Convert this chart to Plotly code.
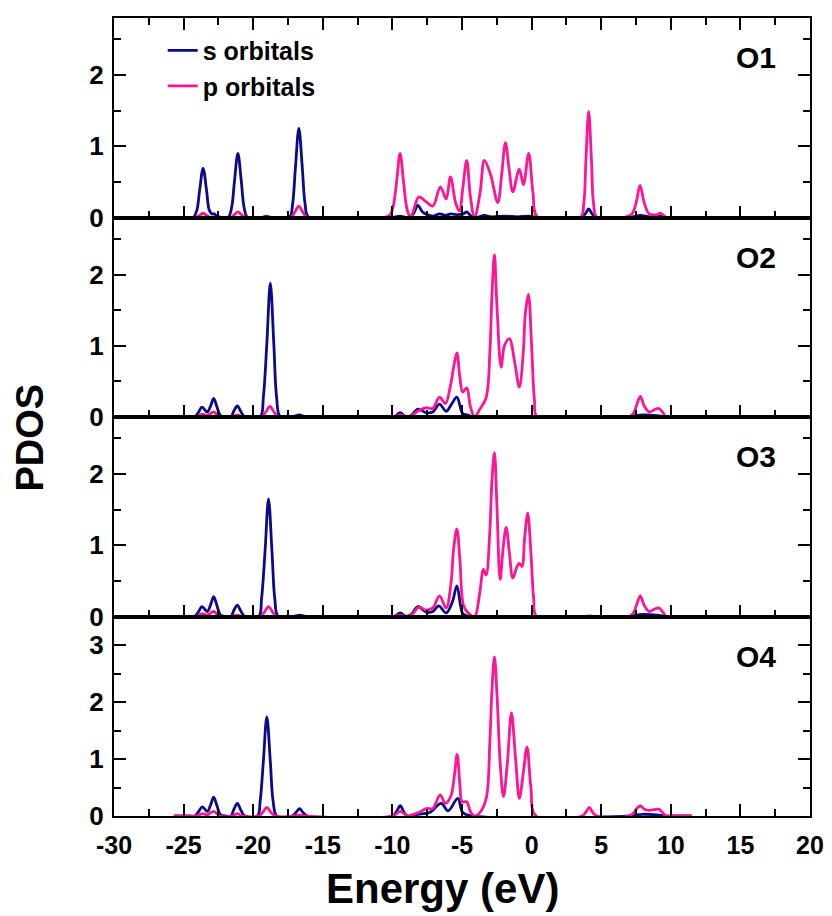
import plotly.graph_objects as go

# ---------------- data ----------------
panel_names = ["O1", "O2", "O3", "O4"]
x_ticks = [-30, -25, -20, -15, -10, -5, 0, 5, 10, 15, 20]

o1_s_x = [-25.7, -24.6, -24.3, -24.05, -23.85, -23.6, -23.35, -23.15, -22.95, -22.8, -22.6, -22.3,
          -21.8, -21.55, -21.35, -21.1, -20.85, -20.65, -20.4,
          -19.4, -19.06, -18.7,
          -17.4, -17.17, -16.97, -16.72, -16.47, -16.27, -16.0,
          -10.0, -9.45, -8.9, -8.5, -8.17, -7.85, -7.5, -7.1, -6.6, -6.2, -5.8, -5.3, -4.9, -4.66,
          -4.35, -4.0, -3.4, -2.9, -1.9, -1.0, -0.2, 0.4,
          3.5, 3.85, 4.1, 4.35, 4.7,
          7.0, 7.8, 8.5, 9.2, 9.8, 10.1, 11.5]
o1_s_y = [0, 0, 0, 0.10, 0.38, 0.69, 0.38, 0.10, 0.05, 0.05, 0.02, 0,
          0, 0.14, 0.50, 0.90, 0.50, 0.14, 0,
          0, 0.02, 0,
          0, 0.19, 0.69, 1.25, 0.69, 0.19, 0,
          0, 0.02, 0, 0.05, 0.17, 0.08, 0.04, 0.02, 0.05, 0.03, 0.05, 0.04, 0.05, 0.08,
          0.02, 0.0, 0.03, 0.01, 0.02, 0.01, 0.02, 0,
          0, 0.05, 0.12, 0.05, 0,
          0, 0.03, 0.01, 0.02, 0, 0, 0]

o1_p_x = [-25.7, -24.2, -23.85, -23.6, -23.35, -23.0, -21.6, -21.35, -21.1, -20.85, -20.5,
          -19.3, -19.0, -18.6, -17.3, -17.0, -16.72, -16.45, -16.1,
          -10.6, -10.2, -9.95, -9.7, -9.45, -9.2, -8.95, -8.7, -8.45, -8.1, -7.57, -7.1,
          -6.55, -6.14, -5.83, -5.45, -5.18, -4.95, -4.66, -4.4, -4.1, -3.7, -3.39, -2.96,
          -2.43, -2.15, -1.88, -1.6, -1.35, -0.88, -0.59, -0.21, 0.1, 0.44,
          3.5, 3.75, 3.9, 4.1, 4.3, 4.45, 4.7,
          6.6, 7.2, 7.5, 7.79, 8.1, 8.45, 9.0, 9.25, 9.65, 9.95, 11.5]
o1_p_y = [0, 0, 0.03, 0.06, 0.03, 0, 0, 0.04, 0.08, 0.04, 0,
          0, 0.01, 0, 0, 0.08, 0.16, 0.08, 0,
          0, 0.03, 0.15, 0.50, 0.90, 0.50, 0.12, 0.0, 0.12, 0.29, 0.22, 0.16,
          0.43, 0.26, 0.57, 0.20, 0.09, 0.40, 0.80, 0.30, 0.0, 0.35, 0.80, 0.61,
          0.21, 0.60, 1.05, 0.65, 0.36, 0.68, 0.46, 0.90, 0.35, 0,
          0, 0.20, 0.80, 1.49, 0.80, 0.20, 0,
          0, 0.05, 0.20, 0.45, 0.20, 0.05, 0.04, 0.06, 0, 0, 0]

o2_s_x = [-25.7, -24.6, -24.2, -23.95, -23.68, -23.3, -23.05, -22.84, -22.6, -22.35, -22.0,
          -21.6, -21.4, -21.14, -20.9, -20.6,
          -19.5, -19.27, -19.02, -18.77, -18.52, -18.32, -18.05,
          -17.2, -16.67, -16.2,
          -9.9, -9.44, -9.0, -8.6, -8.17, -7.57, -7.1, -6.62, -6.14, -5.75, -5.37, -4.95,
          -4.6, -4.2, 0.5, 7.0, 7.5, 8.0, 9.0, 9.7, 10.0, 11.5]
o2_s_y = [0, 0, 0, 0.06, 0.14, 0.07, 0.16, 0.26, 0.14, 0.02, 0,
          0, 0.08, 0.155, 0.08, 0,
          0, 0.28, 1.03, 1.88, 1.03, 0.28, 0,
          0, 0.03, 0,
          0, 0.06, 0, 0.03, 0.11, 0.06, 0.07, 0.18, 0.08, 0.18, 0.28, 0.05,
          0.03, 0, 0, 0, 0.02, 0.03, 0.02, 0, 0, 0]

o2_p_x = [-25.7, -24.1, -23.68, -23.3, -22.84, -22.4, -21.5, -21.14, -20.8,
          -19.4, -19.1, -18.8, -18.5, -18.2, -17.0, -16.67, -16.3,
          -10.0, -9.44, -8.9, -8.54, -8.1, -7.57, -7.1, -6.62, -6.19, -5.83, -5.6, -5.37,
          -5.15, -4.95, -4.66, -4.4, -4.1, -3.75, -3.27, -3.0, -2.85, -2.67, -2.5, -2.19,
          -1.95, -1.6, -1.2, -0.88, -0.6, -0.45, -0.23, 0.0, 0.2, 0.4,
          3.8, 4.15, 4.5, 7.0, 7.35, 7.55, 7.81, 8.1, 8.46, 8.8, 9.13, 9.4, 9.65, 9.95, 11.5]
o2_p_y = [0, 0, 0.04, 0.02, 0.07, 0, 0, 0.03, 0,
          0, 0.07, 0.15, 0.07, 0, 0, 0.01, 0,
          0, 0.03, 0, 0.03, 0.09, 0.13, 0.12, 0.28, 0.19, 0.44, 0.70, 0.90,
          0.55, 0.35, 0.41, 0.15, 0, 0.10, 0.27, 0.90, 1.70, 2.28, 1.60, 0.70,
          1.00, 1.10, 0.75, 0.42, 0.90, 1.45, 1.72, 1.00, 0.25, 0,
          0, 0.01, 0, 0, 0.06, 0.17, 0.29, 0.15, 0.07, 0.10, 0.12, 0.07, 0, 0, 0]

o3_s_x = [-25.7, -24.6, -24.2, -23.95, -23.68, -23.3, -23.05, -22.84, -22.6, -22.35, -22.0,
          -21.6, -21.4, -21.14, -20.9, -20.6,
          -19.6, -19.4, -19.15, -18.9, -18.65, -18.45, -18.2,
          -17.2, -16.67, -16.2,
          -9.9, -9.44, -9.0, -8.6, -8.17, -7.57, -7.1, -6.67, -6.14, -5.7, -5.37, -5.1,
          -4.95, -4.5, 7.0, 7.5, 8.0, 9.0, 9.7, 10.0, 11.5]
o3_s_y = [0, 0, 0, 0.06, 0.14, 0.07, 0.17, 0.28, 0.15, 0.02, 0,
          0, 0.08, 0.16, 0.08, 0,
          0, 0.25, 0.91, 1.65, 0.91, 0.25, 0,
          0, 0.02, 0,
          0, 0.05, 0, 0.04, 0.14, 0.06, 0.07, 0.15, 0.05, 0.20, 0.43, 0.15,
          0.04, 0, 0, 0.02, 0.03, 0.02, 0, 0, 0]

o3_p_x = [-25.7, -24.1, -23.68, -23.3, -22.84, -22.4, -21.5, -21.14, -20.8,
          -19.5, -19.2, -18.9, -18.6, -18.3,
          -10.0, -9.44, -8.9, -8.54, -8.1, -7.57, -7.1, -6.62, -6.14, -5.8, -5.6, -5.37,
          -5.15, -4.9, -4.6, -4.1, -3.75, -3.46, -3.27, -3.0, -2.85, -2.67, -2.5, -2.26,
          -2.05, -1.83, -1.6, -1.35, -1.05, -0.88, -0.69, -0.5, -0.28, -0.05, 0.15, 0.37,
          3.8, 4.15, 4.5, 7.0, 7.35, 7.55, 7.81, 8.1, 8.46, 8.8, 9.13, 9.4, 9.65, 9.95, 11.5]
o3_p_y = [0, 0, 0.04, 0.02, 0.07, 0, 0, 0.02, 0,
          0, 0.06, 0.14, 0.06, 0,
          0, 0.02, 0, 0.04, 0.13, 0.09, 0.12, 0.29, 0.12, 0.45, 0.95, 1.23,
          0.80, 0.16, 0.06, 0, 0.30, 0.66, 0.58, 1.20, 1.90, 2.30, 1.60, 0.52,
          0.95, 1.25, 0.90, 0.54, 0.70, 0.75, 0.70, 1.10, 1.45, 0.90, 0.25, 0,
          0, 0.01, 0, 0, 0.06, 0.17, 0.29, 0.15, 0.07, 0.10, 0.12, 0.07, 0, 0, 0]

o4_s_x = [-25.7, -24.6, -24.2, -23.95, -23.65, -23.3, -23.05, -22.84, -22.6, -22.35, -22.0,
          -21.6, -21.4, -21.14, -20.9, -20.6,
          -19.7, -19.5, -19.27, -19.02, -18.77, -18.57, -18.3,
          -17.2, -16.9, -16.67, -16.45, -16.1,
          -10.0, -9.7, -9.44, -9.15, -8.9, -8.17, -7.33, -6.5, -6.0, -5.3, -4.95,
          -4.3, 7.0, 7.5, 8.0, 9.0, 9.7, 10.0, 11.5]
o4_s_y = [0, 0, 0, 0.07, 0.16, 0.08, 0.20, 0.33, 0.18, 0.02, 0,
          0, 0.11, 0.22, 0.11, 0,
          0, 0.26, 0.96, 1.74, 0.96, 0.26, 0,
          0, 0.07, 0.13, 0.07, 0,
          0, 0.08, 0.18, 0.06, 0, 0.03, 0.06, 0.22, 0.09, 0.31, 0.06,
          0, 0, 0.02, 0.03, 0.02, 0, 0, 0]

o4_p_x = [-25.7, -24.1, -23.65, -23.3, -22.84, -22.4, -21.5, -21.14, -20.8,
          -19.6, -19.3, -19.02, -18.75, -18.4, -17.0, -16.67, -16.3,
          -10.0, -9.44, -8.9, -8.5, -8.1, -7.57, -7.1, -6.57, -6.19, -5.8, -5.55, -5.35,
          -5.15, -4.99, -4.66, -4.4, -4.1, -3.75, -3.27, -3.0, -2.85, -2.67, -2.48, -2.25,
          -2.02, -1.75, -1.45, -1.15, -0.88, -0.6, -0.33, -0.05, 0.32,
          3.6, 3.9, 4.15, 4.4, 4.7, 7.0, 7.35, 7.55, 7.81, 8.1, 8.46, 8.8, 9.13, 9.4, 9.65, 9.95, 11.5]
o4_p_y = [0, 0, 0.04, 0.02, 0.08, 0, 0, 0.04, 0,
          0, 0.07, 0.15, 0.07, 0, 0, 0.02, 0,
          0, 0.08, 0, 0.03, 0.06, 0.13, 0.13, 0.37, 0.22, 0.35, 0.70, 1.08,
          0.55, 0.25, 0.25, 0.08, 0, 0.05, 0.30, 1.30, 2.20, 2.79, 2.10, 0.90,
          0.34, 0.90, 1.81, 1.00, 0.31, 0.75, 1.21, 0.50, 0,
          0, 0.07, 0.15, 0.06, 0, 0, 0.06, 0.13, 0.18, 0.12, 0.10, 0.11, 0.12, 0.06, 0, 0, 0]

s_series = [(o1_s_x, o1_s_y), (o2_s_x, o2_s_y), (o3_s_x, o3_s_y), (o4_s_x, o4_s_y)]
p_series = [(o1_p_x, o1_p_y), (o2_p_x, o2_p_y), (o3_p_x, o3_p_y), (o4_p_x, o4_p_y)]
y_max = [2.8, 2.8, 2.8, 3.5]

# ---------------- styling ----------------
S_COLOR = "#0b0b8a"
P_COLOR = "#ff1493"
FONT = "Liberation Sans, Arial, sans-serif"
# the page body adds an 8px offset, so the figure is a little smaller than the window
W, H = 824, 908
ML, MR, MT, MB = 106, 22, 8, 100

fig = go.Figure()
n = len(panel_names)
for i in range(n):
    ax = "" if i == 0 else str(i + 1)
    sx, sy = s_series[i]
    px_, py_ = p_series[i]
    fig.add_trace(go.Scatter(x=sx, y=sy, mode="lines", name="s orbitals",
                             line=dict(color=S_COLOR, width=2.8, shape="spline", smoothing=1.0),
                             xaxis="x" + ax, yaxis="y" + ax, showlegend=(i == 0),
                             legendgroup="s", hoverinfo="skip"))
    fig.add_trace(go.Scatter(x=px_, y=py_, mode="lines", name="p orbitals",
                             line=dict(color=P_COLOR, width=2.8, shape="spline", smoothing=1.0),
                             xaxis="x" + ax, yaxis="y" + ax, showlegend=(i == 0),
                             legendgroup="p", hoverinfo="skip"))

layout = dict(
    width=W, height=H,
    margin=dict(l=ML, r=MR, t=MT, b=MB),
    plot_bgcolor="white", paper_bgcolor="white",
    font=dict(family=FONT, color="black"),
    legend=dict(x=0.07, y=0.988, xanchor="left", yanchor="top",
                font=dict(size=25, family=FONT, weight="bold", color="black"),
                bgcolor="rgba(0,0,0,0)", tracegroupgap=0, itemwidth=30),
)

for i in range(n):
    ax = "" if i == 0 else str(i + 1)
    top = 1 - i / n
    bottom = 1 - (i + 1) / n
    layout["yaxis" + ax] = dict(
        domain=[bottom, top], range=[0, y_max[i]], anchor="x" + ax,
        tickmode="linear", tick0=0, dtick=1,
        ticks="inside", ticklen=12, tickwidth=2, tickcolor="black",
        minor=dict(ticks="inside", ticklen=7, tickwidth=2, dtick=0.5, tickcolor="black"),
        showline=True, linewidth=2, linecolor="black", mirror="ticks",
        showgrid=False, zeroline=False,
        tickfont=dict(size=26, family=FONT, weight="bold", color="black"),
        ticklabelstandoff=3,
    )
    layout["xaxis" + ax] = dict(
        domain=[0, 1], range=[-30, 20], anchor="y" + ax,
        tickmode="array", tickvals=x_ticks, ticktext=[str(v) for v in x_ticks],
        ticks="inside", ticklen=12, tickwidth=2, tickcolor="black",
        minor=dict(ticks="inside", ticklen=7, tickwidth=2, dtick=2.5, tick0=0, tickcolor="black"),
        showline=True, linewidth=2, linecolor="black",
        mirror=("ticks" if i == 0 else True),
        showgrid=False, zeroline=False,
        showticklabels=(i == n - 1),
        tickfont=dict(size=25, family=FONT, weight="bold", color="black"),
        ticklabelstandoff=6,
    )

fig.update_layout(**layout)

annotations = []
for i, name in enumerate(panel_names):
    ax = "" if i == 0 else str(i + 1)
    annotations.append(dict(text=name, xref="paper", yref="y" + ax + " domain",
                            x=0.922, y=0.80, xanchor="center", yanchor="middle",
                            showarrow=False,
                            font=dict(size=30, family=FONT, weight="bold", color="black")))
annotations.append(dict(text="PDOS", xref="paper", yref="paper", x=-0.121, y=0.474,
                        xanchor="center", yanchor="middle", textangle=-90, showarrow=False,
                        font=dict(size=38, family=FONT, weight="bold", color="black")))
annotations.append(dict(text="Energy (eV)", xref="paper", yref="paper", x=0.472, y=-0.059,
                        xanchor="center", yanchor="top", showarrow=False,
                        font=dict(size=42, family=FONT, weight="bold", color="black")))
fig.update_layout(annotations=annotations)

fig.write_html("out.html")
